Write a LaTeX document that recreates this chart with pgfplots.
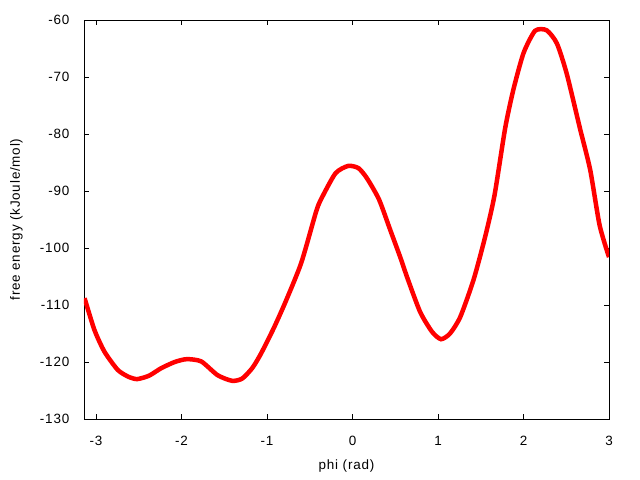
\documentclass[border=0pt]{standalone}
\usepackage{fontspec}
\setmainfont{Liberation Sans}[LetterSpace=6]
\usepackage{pgfplots}
\pgfplotsset{compat=1.18}

\begin{document}
\fontsize{13.5}{16}\selectfont
\begin{tikzpicture}
\begin{axis}[
    at={(0,0)}, anchor=south west,
    scale only axis,
    width=525bp, height=399bp,
    xmin=-3.1416, xmax=3.0,
    ymin=-130, ymax=-60,
    xtick={-3,-2,-1,0,1,2,3},
    ytick={-130,-120,-110,-100,-90,-80,-70,-60},
    tick align=inside,
    major tick length=5bp,
    axis line style={line width=0.8pt},
    every tick/.style={black, line width=0.8pt},
    /pgf/number format/assume math mode=true,
    xlabel={phi (rad)},
    ylabel={free energy (kJoule/mol)},
    xlabel style={at={(axis description cs:0.5,-0.118)}, anchor=center},
    ylabel style={at={(axis description cs:-0.1286,0.5)}, anchor=center},
    xticklabel style={anchor=center, yshift=-22bp},
    yticklabel style={anchor=east, xshift=-10bp},
]
\addplot[red, line width=4.5bp, smooth, tension=0.4] coordinates {
    (-3.135,-108.8)
    (-3.019,-114.4)
    (-2.902,-118.2)
    (-2.746,-121.4)
    (-2.62,-122.6)
    (-2.52,-123.0)
    (-2.38,-122.4)
    (-2.24,-121.1)
    (-2.08,-120.0)
    (-1.94,-119.5)
    (-1.77,-119.9)
    (-1.58,-122.3)
    (-1.41,-123.3)
    (-1.29,-122.9)
    (-1.17,-121.0)
    (-1.07,-118.5)
    (-0.92,-114.0)
    (-0.78,-109.3)
    (-0.60,-102.6)
    (-0.43,-93.8)
    (-0.37,-91.5)
    (-0.20,-86.9)
    (-0.05,-85.6)
    (0.07,-86.0)
    (0.17,-87.8)
    (0.31,-91.5)
    (0.44,-96.8)
    (0.56,-101.7)
    (0.64,-105.2)
    (0.79,-111.2)
    (0.93,-114.7)
    (1.035,-116.0)
    (1.14,-115.0)
    (1.26,-112.1)
    (1.415,-105.6)
    (1.55,-98.1)
    (1.66,-90.8)
    (1.785,-79.0)
    (1.88,-72.3)
    (2.0,-65.8)
    (2.135,-61.9)
    (2.27,-61.8)
    (2.39,-64.1)
    (2.505,-69.4)
    (2.66,-79.0)
    (2.78,-86.3)
    (2.89,-96.0)
    (3.0,-101.6)
};
\end{axis}
\useasboundingbox (-84bp,-61bp) rectangle (556bp,419bp);
\end{tikzpicture}
\end{document}
